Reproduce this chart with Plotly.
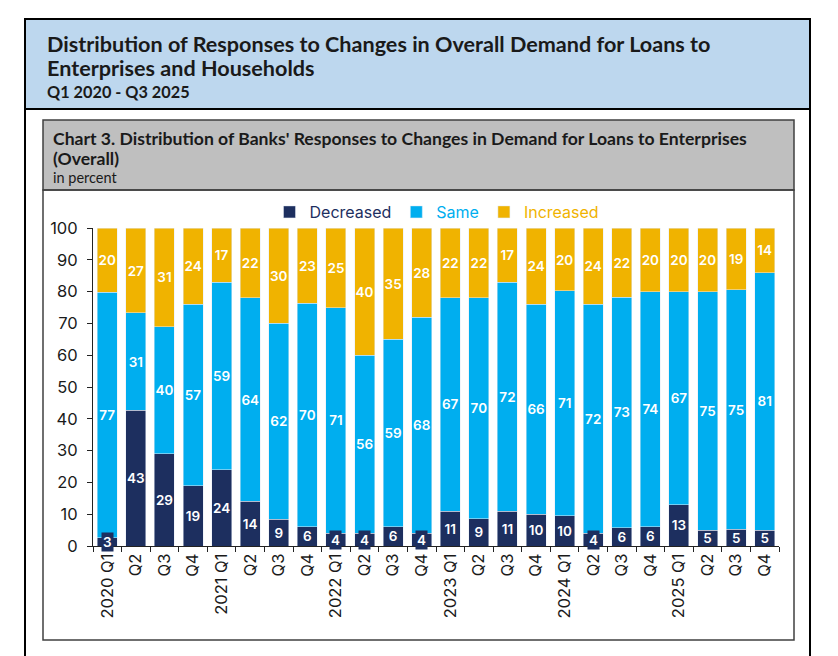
import plotly.graph_objects as go

categories = ["2020 Q1", "2020 Q2", "2020 Q3", "2020 Q4",
              "2021 Q1", "2021 Q2", "2021 Q3", "2021 Q4",
              "2022 Q1", "2022 Q2", "2022 Q3", "2022 Q4",
              "2023 Q1", "2023 Q2", "2023 Q3", "2023 Q4",
              "2024 Q1", "2024 Q2", "2024 Q3", "2024 Q4",
              "2025 Q1", "2025 Q2", "2025 Q3", "2025 Q4"]
tick_labels = ["2020 Q1", "Q2", "Q3", "Q4",
               "2021 Q1", "Q2", "Q3", "Q4",
               "2022 Q1", "Q2", "Q3", "Q4",
               "2023 Q1", "Q2", "Q3", "Q4",
               "2024 Q1", "Q2", "Q3", "Q4",
               "2025 Q1", "Q2", "Q3", "Q4"]
# segment heights (percent)
decreased = [2.6, 42.7, 29, 19, 24, 14, 8.4, 6.1, 4, 4, 6, 4, 11, 8.6, 11, 10, 9.5, 4, 5.8, 6, 13, 5, 5.2, 5]
same = [77.2, 30.6, 40, 57, 59, 64, 61.6, 70.2, 71, 56, 59, 68, 67, 69.5, 72, 66, 70.7, 72, 72.4, 74, 67, 75, 75.4, 81]
increased = [20.1, 26.6, 31, 24, 17, 22, 29.9, 23.6, 25, 40, 35, 28, 22, 21.8, 17, 24, 19.7, 24, 21.7, 20, 20, 20, 19.3, 14]
# data labels as printed on the bars
decreased_labels = [3, 43, 29, 19, 24, 14, 9, 6, 4, 4, 6, 4, 11, 9, 11, 10, 10, 4, 6, 6, 13, 5, 5, 5]
same_labels = [77, 31, 40, 57, 59, 64, 62, 70, 71, 56, 59, 68, 67, 70, 72, 66, 71, 72, 73, 74, 67, 75, 75, 81]
increased_labels = [20, 27, 31, 24, 17, 22, 30, 23, 25, 40, 35, 28, 22, 22, 17, 24, 20, 24, 22, 20, 20, 20, 19, 14]
y_ticks = [0, 10, 20, 30, 40, 50, 60, 70, 80, 90, 100]

NAVY = "#1D2F5F"
BLUE = "#00AEEF"
GOLD = "#F0B300"
FONT = "Inter"
HFONT = "Lato"

OFF = 8  # browser body margin
W, H = 838 - OFF, 656 - OFF
# plot area in screen (reference) pixels
L, R, T, B = 93, 779, 228, 546


def px(x):
    return (x - L) / (R - L)


def py(y):
    return (B - y) / (B - T)


small = [v < 5 for v in decreased_labels]
lab_font = dict(color="white", size=13.5, family=FONT, weight=600)

fig = go.Figure()
fig.add_bar(x=categories, y=decreased, name=f"<span style='color:{NAVY}'>Decreased</span>",
            marker_color=NAVY,
            text=["" if s else str(v) for v, s in zip(decreased_labels, small)],
            textposition="inside", insidetextanchor="middle", textangle=0,
            insidetextfont=lab_font, cliponaxis=False)
fig.add_bar(x=categories, y=same, name=f"<span style='color:{BLUE}'>Same</span>",
            marker_color=BLUE, text=[str(v) for v in same_labels],
            textposition="inside", insidetextanchor="middle", textangle=0,
            insidetextfont=lab_font, cliponaxis=False)
fig.add_bar(x=categories, y=increased, name=f"<span style='color:{GOLD}'>Increased</span>",
            marker_color=GOLD, text=[str(v) for v in increased_labels],
            textposition="inside", insidetextanchor="middle", textangle=0,
            insidetextfont=lab_font, cliponaxis=False)

annotations = []
for c, v, lab, s in zip(categories, decreased, decreased_labels, small):
    if s:
        annotations.append(dict(x=c, y=v / 2, xref="x", yref="y", text=str(lab), showarrow=False,
                                font=lab_font, bgcolor=NAVY, borderpad=1))

annotations += [
    dict(x=px(45), y=py(44), xref="paper", yref="paper", xanchor="left", yanchor="middle",
         text="<b>Distribution of Responses to Changes in Overall Demand for Loans to</b>",
         showarrow=False, font=dict(family=HFONT, size=21.6, color="#1a1a1a")),
    dict(x=px(45), y=py(68), xref="paper", yref="paper", xanchor="left", yanchor="middle",
         text="<b>Enterprises and Households</b>",
         showarrow=False, font=dict(family=HFONT, size=21.6, color="#1a1a1a")),
    dict(x=px(45), y=py(91), xref="paper", yref="paper", xanchor="left", yanchor="middle",
         text="<b>Q1 2020 - Q3 2025</b>",
         showarrow=False, font=dict(family=HFONT, size=16.3, color="#1a1a1a")),
    dict(x=px(51), y=py(138.5), xref="paper", yref="paper", xanchor="left", yanchor="middle",
         text="<b>Chart 3. Distribution of Banks' Responses to Changes in Demand for Loans to Enterprises</b>",
         showarrow=False, font=dict(family=HFONT, size=17.6, color="#1a1a1a")),
    dict(x=px(51), y=py(158.5), xref="paper", yref="paper", xanchor="left", yanchor="middle",
         text="<b>(Overall)</b>",
         showarrow=False, font=dict(family=HFONT, size=17.6, color="#1a1a1a")),
    dict(x=px(51), y=py(177.5), xref="paper", yref="paper", xanchor="left", yanchor="middle",
         text="in percent",
         showarrow=False, font=dict(family=HFONT, size=14.5, color="#1a1a1a")),
]

shapes = [
    dict(type="rect", xref="paper", yref="paper", x0=px(25), x1=px(810), y0=py(19), y1=py(109),
         fillcolor="#BDD7EE", line=dict(color="black", width=2), layer="below"),
    dict(type="line", xref="paper", yref="paper", x0=px(25), x1=px(25), y0=py(109), y1=py(670),
         line=dict(color="black", width=2)),
    dict(type="line", xref="paper", yref="paper", x0=px(810), x1=px(810), y0=py(109), y1=py(670),
         line=dict(color="black", width=2)),
    dict(type="rect", xref="paper", yref="paper", x0=px(43), x1=px(794), y0=py(120), y1=py(190),
         fillcolor="#BFBFBF", line=dict(color="#404040", width=1.5), layer="below"),
    dict(type="rect", xref="paper", yref="paper", x0=px(43), x1=px(794), y0=py(190), y1=py(640),
         fillcolor="rgba(0,0,0,0)", line=dict(color="#404040", width=1.5), layer="below"),
]

fig.update_layout(
    width=W, height=H, barmode="stack", bargap=0.3,
    margin=dict(l=L - OFF, r=W - (R - OFF), t=T - OFF, b=H - (B - OFF), autoexpand=False),
    paper_bgcolor="white", plot_bgcolor="white",
    font=dict(family=FONT, color="#1a1a1a"),
    uniformtext=dict(minsize=13.5, mode="show"),
    legend=dict(orientation="h", x=px(437), xanchor="center", y=py(212), yanchor="middle",
                font=dict(family=FONT, size=16), traceorder="normal", itemwidth=30,
                bgcolor="rgba(0,0,0,0)"),
    annotations=annotations, shapes=shapes,
    showlegend=True,
)
fig.update_xaxes(tickvals=categories, ticktext=tick_labels, tickangle=-90, tickson="boundaries",
                 ticks="outside", ticklen=5, tickcolor="#222", showline=True, linecolor="#222",
                 linewidth=1, tickfont=dict(size=16.5, family=FONT, color="#1a1a1a"), showgrid=False)
fig.update_yaxes(range=[0, 100], tickvals=y_ticks, ticks="outside", ticklen=5, tickcolor="#222",
                 showline=True, linecolor="#222", linewidth=1, showgrid=False, zeroline=False,
                 ticklabelstandoff=6,
                 tickfont=dict(size=16.5, family=FONT, color="#1a1a1a"))

fig.write_html("out.html")
